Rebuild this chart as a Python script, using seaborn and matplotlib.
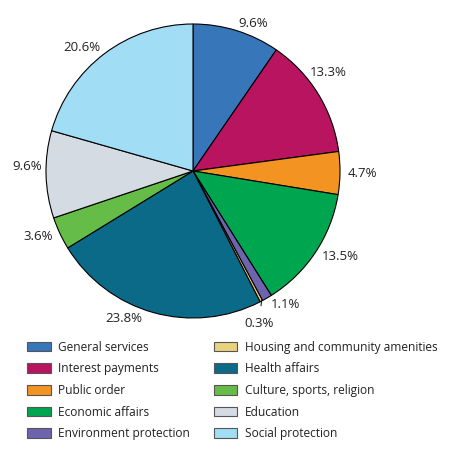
import matplotlib
matplotlib.use("Agg")
import matplotlib.pyplot as plt
from matplotlib.patches import Patch
import seaborn as sns

# Shares of expenditure by function (%)
categories = [
    "General services", "Interest payments", "Public order", "Economic affairs",
    "Environment protection", "Housing and community amenities", "Health affairs",
    "Culture, sports, religion", "Education", "Social protection",
]
shares = [9.6, 13.3, 4.7, 13.5, 1.1, 0.3, 23.8, 3.6, 9.6, 20.6]
labels = ["9.6%", "13.3%", "4.7%", "13.5%", "1.1%", "", "23.8%", "3.6%", "9.6%", "20.6%"]
colors = ["#3776b9", "#b81460", "#f39321", "#00a550", "#6e63ad",
          "#e8d27c", "#0b6a88", "#65bc47", "#d5dbe3", "#a1ddf5"]

sns.set_style("white")
plt.rcParams["font.family"] = ["Open Sans", "DejaVu Sans"]
text_color = "#222222"
palette = sns.color_palette(colors)

fig = plt.figure(figsize=(4.53, 4.69), dpi=100)
ax = fig.add_axes([46 / 453, (469 - 318) / 469, 294 / 453, 294 / 469])

wedges, texts = ax.pie(
    shares, labels=labels, colors=palette, startangle=90, counterclock=False,
    labeldistance=1.05,
    wedgeprops=dict(edgecolor="black", linewidth=0.8),
    textprops=dict(fontsize=9.5, color=text_color),
)
for w in wedges:
    w.set_clip_on(False)
ax.set_xlim(-1, 1)
ax.set_ylim(-1, 1)
ax.set_aspect("equal")

# nudge a few labels to where the original puts them
texts[1].set_position((0.796, 0.673))
texts[6].set_position((-0.347, -1.0))
texts[8].set_position((-1.027, 0.034))

# small slice label with leader line
ax.annotate("0.3%", xy=(0.467, -0.878), xytext=(0.449, -1.04),
            ha="center", va="center", fontsize=9.5, color=text_color,
            arrowprops=dict(arrowstyle="-", color="black", lw=0.7,
                            shrinkA=6, shrinkB=0))

handles = [Patch(facecolor=c, edgecolor="#555555", linewidth=0.8) for c in colors]
fig.legend(handles, categories, ncol=2, loc="upper left",
           bbox_to_anchor=(16 / 453, 1 - 330 / 469), frameon=False,
           fontsize=8.6, handlelength=2.0, handleheight=0.85, handletextpad=0.6,
           columnspacing=2.0, labelspacing=0.72, labelcolor=text_color)

fig.savefig("out.png", dpi=100)
